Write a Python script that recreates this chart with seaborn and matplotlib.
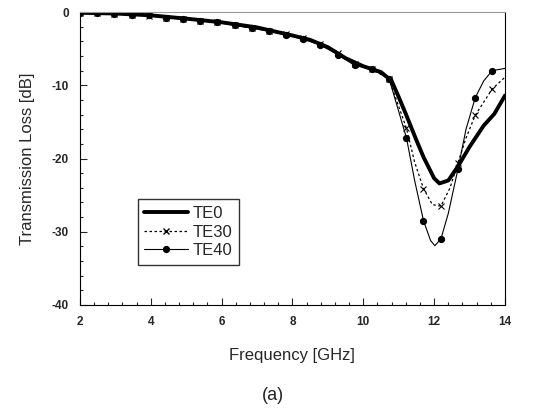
import matplotlib
matplotlib.use("Agg")
import matplotlib.pyplot as plt
from matplotlib.ticker import MultipleLocator
import pandas as pd
import seaborn as sns

sns.set_style("ticks")
plt.rcParams['font.family'] = ['Liberation Sans', 'DejaVu Sans']
plt.rcParams['axes.unicode_minus'] = False

# marker positions (GHz) shared by TE30 / TE40
freq_pts = [2.0, 2.49, 2.97, 3.46, 3.94, 4.43, 4.91, 5.40, 5.88, 6.37, 6.85, 7.34, 7.82,
            8.31, 8.79, 9.28, 9.76, 10.25, 10.73, 11.22, 11.70, 12.19, 12.67, 13.16, 13.64]
te40_pts = [-0.1, -0.15, -0.2, -0.45, -0.45, -0.8, -0.95, -1.2, -1.4, -1.8, -2.2, -2.6, -3.1,
            -3.7, -4.5, -5.8, -7.3, -7.8, -9.1, -17.2, -28.5, -31.0, -21.5, -11.7, -8.0]
te30_pts = [-0.1, -0.15, -0.25, -0.4, -0.5, -0.75, -0.95, -1.2, -1.4, -1.8, -2.2, -2.6, -3.0,
            -3.6, -4.4, -5.6, -7.1, -7.8, -9.2, -15.9, -24.1, -26.5, -20.6, -14.1, -10.5]

# curve points for the smooth lines
te0_f = [2.0, 3.0, 4.0, 5.0, 6.0, 7.0, 8.0, 8.5, 9.0, 9.5, 10.0, 10.5, 10.8, 11.0, 11.2, 11.5,
         11.7, 12.0, 12.15, 12.4, 12.67, 13.0, 13.4, 13.7, 14.0]
te0_db = [-0.1, -0.2, -0.45, -0.9, -1.4, -2.1, -3.2, -3.8, -4.8, -6.3, -7.4, -8.2, -9.4, -11.6,
          -13.9, -17.5, -19.8, -22.7, -23.4, -23.0, -21.1, -18.4, -15.5, -13.9, -11.4]
te30_f = freq_pts[:20] + [11.45, 11.70, 11.95, 12.19, 12.45, 12.67, 12.9, 13.16, 13.64, 14.0]
te30_db = te30_pts[:20] + [-20.5, -24.1, -26.3, -26.5, -24.0, -20.6, -17.2, -14.1, -10.5, -8.9]
te40_f = freq_pts[:20] + [11.45, 11.70, 11.9, 12.02, 12.19, 12.4, 12.67, 12.9, 13.16, 13.4, 13.64, 14.0]
te40_db = te40_pts[:20] + [-23.0, -28.5, -31.2, -31.9, -31.0, -27.5, -21.5, -16.0, -11.7, -9.4, -8.0, -7.7]

fig = plt.figure(figsize=(5.43, 4.08), dpi=100)
ax = fig.add_axes([0.147, 0.2525, 0.783, 0.718])

sns.lineplot(x=te40_f, y=te40_db, ax=ax, color='black', lw=0.8)
sns.lineplot(x=te30_f, y=te30_db, ax=ax, color='black', lw=0.9, linestyle=(0, (2, 2)))
ax.plot(freq_pts, te40_pts, 'o', color='black', ms=4.2, ls='none')
ax.plot(freq_pts, te30_pts, 'x', color='black', ms=4.5, mew=0.8, ls='none')
sns.lineplot(x=te0_f, y=te0_db, ax=ax, color='black', lw=2.8)

# legend proxies
h0, = ax.plot([], [], color='black', lw=2.8, label='TE0')
h1, = ax.plot([], [], color='black', lw=0.9, ls=(0, (2, 2)), marker='x', ms=4.5, label='TE30')
h2, = ax.plot([], [], color='black', lw=0.8, marker='o', ms=4.2, label='TE40')
leg = ax.legend(handles=[h0, h1, h2], loc='lower left', bbox_to_anchor=(0.136, 0.137),
                fontsize=12, frameon=True, fancybox=False, handlelength=2.6,
                borderpad=0.4, labelspacing=0.22, handletextpad=0.3, borderaxespad=0)
leg.get_frame().set_edgecolor('black')
leg.get_frame().set_linewidth(1.0)

ax.set_xlim(2, 14)
ax.set_ylim(-40, 0)
ax.xaxis.set_major_locator(MultipleLocator(2))
ax.xaxis.set_minor_locator(MultipleLocator(0.4))
ax.yaxis.set_major_locator(MultipleLocator(10))
ax.yaxis.set_minor_locator(MultipleLocator(2))
ax.tick_params(which='both', direction='in', top=False, right=False, width=0.8)
ax.tick_params(which='major', length=5, labelsize=8.5, pad=8)
ax.tick_params(which='minor', length=2.5)
for lab in ax.get_xticklabels() + ax.get_yticklabels():
    lab.set_fontweight('bold')
for s in ax.spines.values():
    s.set_linewidth(0.8)
    s.set_color('black')
ax.spines['top'].set_color('#999999')

ax.set_xlabel('Frequency [GHz]', fontsize=12, labelpad=14)
ax.set_ylabel('Transmission Loss [dB]', fontsize=12, labelpad=12)
fig.text(0.503, 0.03, '(a)', fontsize=13, ha='center', va='center', color='#222222')

fig.savefig('out.png', dpi=100)
